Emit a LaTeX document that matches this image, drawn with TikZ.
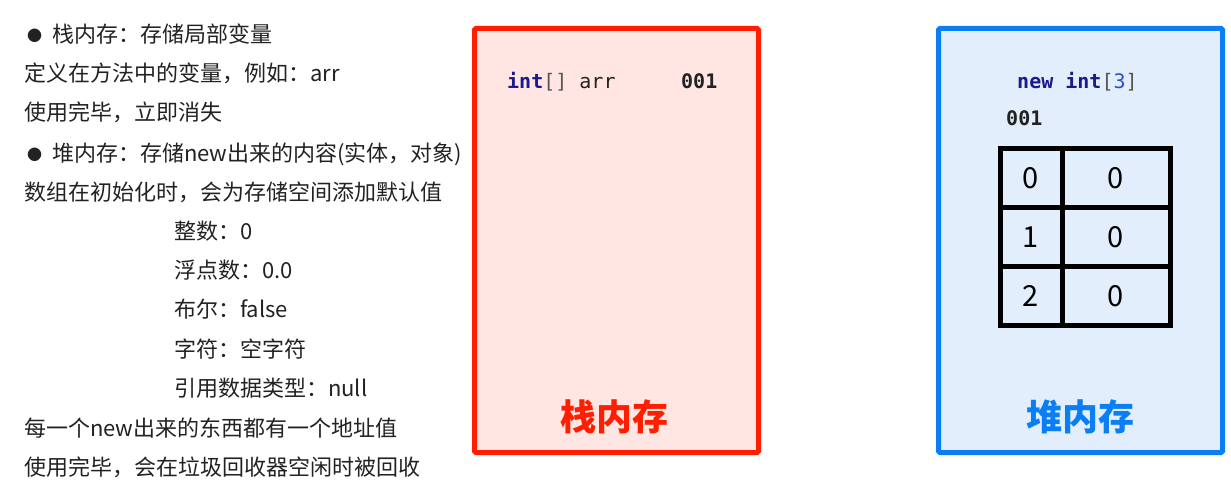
\documentclass[tikz,border=0pt]{standalone}
\usepackage{fontspec}
\setmainfont{Noto Sans CJK SC}
\newfontfamily\codefont{DejaVu Sans Mono}
\definecolor{stackred}{HTML}{FF1E00}
\definecolor{stackfill}{HTML}{FFE6E3}
\definecolor{heapblue}{HTML}{0A7EF5}
\definecolor{heapfill}{HTML}{E2EEFB}
\definecolor{kw}{HTML}{1A1A8C}
\definecolor{brk}{HTML}{555555}
\definecolor{num}{HTML}{2A50D0}
\definecolor{txt}{HTML}{222222}
\newcommand{\bulletmark}{\makebox[28pt][l]{\hspace{3pt}\fontsize{15}{15}\selectfont\raisebox{1pt}{●}}}
\tikzset{
  line/.style={anchor=base west,inner sep=0pt,font=\fontsize{22}{22}\selectfont,text=txt},
  code/.style={anchor=base west,inner sep=0pt,font=\codefont\fontsize{20}{20}\selectfont,text=txt},
  membox/.style={line width=5pt,rounded corners=1.5pt},
  cell/.style={draw=black,line width=5pt,minimum height=59pt,inner sep=0pt,font=\fontsize{29}{29}\selectfont},
  title/.style={font=\fontsize{36}{36}\selectfont\bfseries}
}
\begin{document}
\begin{tikzpicture}[x=1pt,y=-1pt]
\useasboundingbox (0,0) rectangle (1231,492);
% left text
\node[line] (l1) at (24,43) {\bulletmark 栈内存：存储局部变量};
\node[line] (l2) at (24,82) {定义在方法中的变量，例如：arr};
\node[line] (l3) at (24,121) {使用完毕，立即消失};
\node[line] (l4) at (24,161) {\bulletmark 堆内存：存储new出来的内容(实体，对象)};
\node[line] (l5) at (24,200) {数组在初始化时，会为存储空间添加默认值};
\node[line] (l6) at (174,239) {整数：0};
\node[line] (l7) at (174,278) {浮点数：0.0};
\node[line] (l8) at (174,317) {布尔：false};
\node[line] (l9) at (174,357) {字符：空字符};
\node[line] (l10) at (174,396) {引用数据类型：null};
\node[line] (l11) at (24,436) {每一个new出来的东西都有一个地址值};
\node[line] (l12) at (24,475) {使用完毕，会在垃圾回收器空闲时被回收};
% stack box
\draw[membox,draw=stackred,fill=stackfill] (474.5,28.5) rectangle (758.5,452.5);
\node[code] (decl) at (507,89) {\textcolor{kw}{\bfseries int}\textcolor{brk}{[]} arr};
\node[code] (addr1) at (681,89) {\bfseries 001};
\node[title,text=stackred] (stitle) at (614,417) {栈内存};
% heap box
\draw[membox,draw=heapblue,fill=heapfill] (938.5,28.5) rectangle (1222.5,452.5);
\node[code] (newexpr) at (1017,89) {\textcolor{kw}{\bfseries new int}\textcolor{brk}{[}\textcolor{num}{3}\textcolor{brk}{]}};
\node[code] (addr2) at (1006,126) {\bfseries 001};
\node[cell,minimum width=62pt] (i0) at (1031,178) {0};
\node[cell,minimum width=108pt] (v0) at (1116,178) {0};
\node[cell,minimum width=62pt] (i1) at (1031,237) {1};
\node[cell,minimum width=108pt] (v1) at (1116,237) {0};
\node[cell,minimum width=62pt] (i2) at (1031,296) {2};
\node[cell,minimum width=108pt] (v2) at (1116,296) {0};
\node[title,text=heapblue] (htitle) at (1080,417) {堆内存};
\end{tikzpicture}
\end{document}
